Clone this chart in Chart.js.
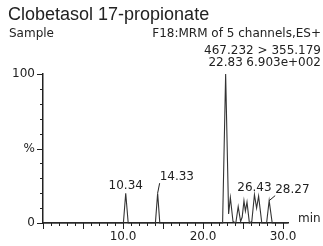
<!DOCTYPE html>
<html><head><meta charset="utf-8">
<script src="https://cdn.jsdelivr.net/npm/chart.js@4/dist/chart.umd.min.js"></script>
<style>html,body{margin:0;padding:0;background:#fff;overflow:hidden}canvas{display:block}</style>
</head><body>
<canvas id="c" width="323" height="246"></canvas>
<script>
// ---- data ----
const retentionTimes = [0, 10.05, 10.34, 10.65, 14.05, 14.33, 14.6, 22.45, 22.83, 23.2, 23.42, 23.75, 24.1, 24.4, 24.7, 24.9, 25.12, 25.3, 25.5, 25.8, 26.1, 26.43, 26.7, 26.95, 27.35, 27.95, 28.27, 28.65, 30.6];
const intensities    = [0, 0, 20, 0, 0, 20, 0, 0, 100, 6, 17, 1, 0, 11, 1, 4, 15, 8, 14, 0, 1, 19, 10, 18, 0, 0, 15, 0, 0];
const peakTimes   = [10.34, 14.33, 22.83, 26.43, 28.27];
const peakHeights = [20, 20, 100, 19, 15];
const peakLabels  = ['10.34', '14.33', '22.83', '26.43', '28.27'];
const xTickValues = [10, 20, 30];
const xTickLabels = ['10.0', '20.0', '30.0'];
const yTickValues = [0, 50, 100];
const yTickLabels = ['0', '%', '100'];
const titleText = 'Clobetasol 17-propionate';
const sampleText = 'Sample';
const functionText = 'F18:MRM of 5 channels,ES+';
const transitionText = '467.232 > 355.179';
const baseIntensityText = '6.903e+002';
const xUnit = 'min';

const FONT = '"DejaVu Sans", sans-serif';
const INK = '#222';

const overlay = {
  id: 'overlay',
  afterDraw(chart) {
    const { ctx, scales: { x, y }, chartArea: a } = chart;
    ctx.save();
    ctx.strokeStyle = INK; ctx.lineWidth = 1;
    // x tick marks (minor every 1, major every 5)
    for (let v = 0; v <= 30; v++) {
      const px = Math.round(x.getPixelForValue(v)) + 0.5;
      const len = v % 5 === 0 ? 6 : 3;
      ctx.beginPath(); ctx.moveTo(px, a.bottom); ctx.lineTo(px, a.bottom + len); ctx.stroke();
    }
    // y tick marks (minor every 10, major every 50)
    for (let v = 0; v <= 100; v += 10) {
      const py = Math.round(y.getPixelForValue(v)) + 0.5;
      const len = v % 50 === 0 ? 6 : 3;
      ctx.beginPath(); ctx.moveTo(a.left, py); ctx.lineTo(a.left - len, py); ctx.stroke();
    }
    ctx.fillStyle = INK;
    // header texts
    ctx.textBaseline = 'alphabetic';
    ctx.font = '18px "Liberation Sans", Arial, sans-serif';
    ctx.textAlign = 'left';
    ctx.fillText(titleText, 8, 20);
    ctx.font = '12px ' + FONT;
    ctx.fillText(sampleText, 9, 37);
    ctx.textAlign = 'right';
    ctx.fillText(functionText, 321, 37);
    ctx.fillText(transitionText, 321, 54);
    ctx.fillText(baseIntensityText, 321, 66);
    // x unit
    ctx.textAlign = 'left';
    ctx.fillText(xUnit, a.right + 10, a.bottom - 1);
    // peak labels
    peakTimes.forEach((t, i) => {
      const px = x.getPixelForValue(t);
      const py = y.getPixelForValue(peakHeights[i]);
      const lab = peakLabels[i];
      if (i === 2) { ctx.textAlign = 'center'; ctx.fillText(lab, px, 66); return; }
      if (i === 1 || i === 4) {
        const dx = i === 1 ? 2 : 6, dy = i === 1 ? 10 : 5;
        ctx.beginPath(); ctx.moveTo(px, py); ctx.lineTo(px + dx, py - dy); ctx.stroke();
        ctx.textAlign = 'left';
        ctx.fillText(lab, px + dx, py - dy - 3);
        return;
      }
      ctx.textAlign = 'center';
      ctx.fillText(lab, px, py - 4);
    });
    ctx.restore();
  }
};

new Chart(document.getElementById('c'), {
  type: 'line',
  data: {
    datasets: [{
      data: retentionTimes.map((t, i) => ({ x: t, y: intensities[i] })),
      borderColor: '#333', borderWidth: 1.1, pointRadius: 0, tension: 0, fill: false, clip: false
    }]
  },
  options: {
    responsive: false, animation: false, devicePixelRatio: 1,
    layout: { padding: { top: 74, right: 35, left: 0, bottom: 0 } },
    plugins: { legend: { display: false }, tooltip: { enabled: false } },
    scales: {
      x: {
        type: 'linear', min: 0, max: 30.625,
        afterFit(s) { s.height = 23; },
        grid: { display: false, drawTicks: false },
        border: { display: true, color: INK, width: 1.5 },
        ticks: {
          stepSize: 1, autoSkip: false, includeBounds: false, maxRotation: 0, padding: 7, color: INK,
          font: { family: FONT, size: 12 },
          callback(v) { const i = xTickValues.indexOf(v); return i >= 0 ? xTickLabels[i] : ''; }
        }
      },
      y: {
        min: 0, max: 100,
        afterFit(s) { s.width = 43; },
        grid: { display: false, drawTicks: false },
        border: { display: true, color: INK, width: 1.5 },
        ticks: {
          stepSize: 10, autoSkip: false, padding: 8, color: INK,
          font: { family: FONT, size: 12 },
          callback(v) { const i = yTickValues.indexOf(v); return i >= 0 ? yTickLabels[i] : ''; }
        }
      }
    }
  },
  plugins: [overlay]
});
</script>
</body></html>
